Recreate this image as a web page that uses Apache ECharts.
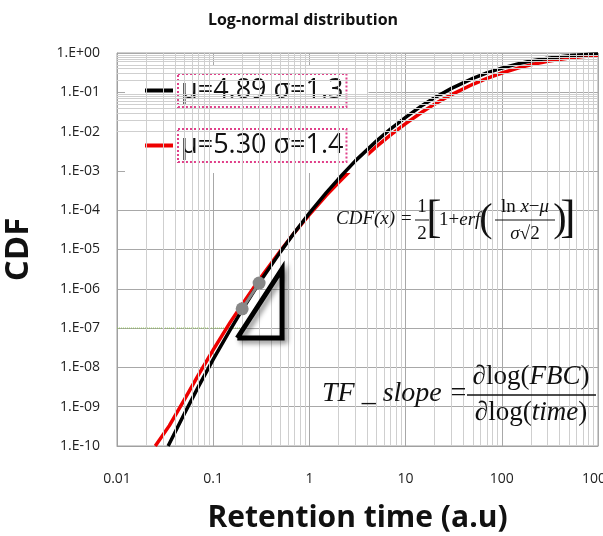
<!DOCTYPE html>
<html>
<head>
<meta charset="utf-8">
<script src="https://cdn.jsdelivr.net/npm/echarts@6/dist/echarts.min.js"></script>
<style>
  html, body { margin: 0; padding: 0; background: #fff; }
  #chart { width: 603px; height: 536px; }
</style>
</head>
<body>
<div id="chart"></div>
<script>
// curve values (log-log)
const seriesNames = ['μ=4.89 σ=1.3', 'μ=5.30 σ=1.4'];
const blackX = [0.034, 0.04, 0.05, 0.07, 0.1, 0.15, 0.2, 0.3, 0.5, 0.7, 1, 1.5, 2, 3, 5, 7, 10, 15, 20, 30, 50, 70, 100, 150, 200, 300, 500, 700, 1000];
const blackCdf = [1e-10, 2.2e-10, 6.5e-10, 3.2e-9, 1.6e-8, 9e-8, 2.9e-7, 1.4e-6, 8.7e-6, 2.7e-5, 8.4e-5, 2.8e-4, 6.2e-4, 1.8e-3, 5.8e-3, 0.0118, 0.023, 0.047, 0.073, 0.126, 0.226, 0.311, 0.413, 0.537, 0.623, 0.734, 0.846, 0.899, 0.94];
const redX = [0.025, 0.035, 0.05, 0.07, 0.1, 0.15, 0.2, 0.3, 0.5, 0.7, 1, 1.5, 2, 3, 5, 7, 10, 15, 20, 30, 50, 70, 100, 150, 200, 300, 500, 700, 1000];
const redCdf = [1e-10, 3.3e-10, 1.5e-9, 6.4e-9, 2.8e-8, 1.4e-7, 4e-7, 1.7e-6, 9.3e-6, 2.7e-5, 7.7e-5, 2.4e-4, 5e-4, 1.35e-3, 4.2e-3, 8.3e-3, 0.016, 0.032, 0.05, 0.0875, 0.16, 0.226, 0.31, 0.418, 0.5, 0.614, 0.74, 0.814, 0.875];

// slope annotation
const dotX = [0.2, 0.3];
const dotY = [3.1e-7, 1.4e-6];
const triX = [0.178, 0.52, 0.52, 0.178];
const triY = [5.6e-8, 5.6e-8, 3.2e-6, 5.6e-8];
const guideX = [0.01, 0.215];
const guideY = [1e-7, 1e-7];

// axis ranges
const xMin = 0.01, xMax = 1000;
const yMin = 1e-10, yMax = 1;
const minorSteps = [2, 3, 4, 5, 6, 7, 8, 9];

const pairs = (xs, ys) => xs.map((x, i) => [x, ys[i]]);

// minor grid lines at 2..9 of each decade
const minorLines = [];
for (let e = -2; e < 3; e++) {
    minorSteps.forEach(k => minorLines.push({ xAxis: k * Math.pow(10, e) }));
}
for (let e = -10; e < 0; e++) {
    minorSteps.forEach(k => minorLines.push({ yAxis: k * Math.pow(10, e) }));
}

function yLabel(v) {
    const e = Math.round(Math.log10(v));
    return '1.E' + (e < 0 ? '-' : '+') + String(Math.abs(e)).padStart(2, '0');
}

const chart = echarts.init(document.getElementById('chart'));
const serif = 'Liberation Serif';

chart.setOption({
    animation: false,
    title: {
        text: 'Log-normal distribution',
        left: 298, top: 7, textAlign: 'center',
        textStyle: { fontFamily: 'Open Sans', fontSize: 16, fontWeight: 'bold', color: '#111' }
    },
    grid: { left: 117, right: 5, top: 53, bottom: 90, show: true, borderColor: '#a0a0a0', borderWidth: 1,
        outerBoundsMode: 'none', containLabel: false },
    legend: {
        data: seriesNames,
        orient: 'vertical',
        left: 125, top: 65,
        padding: [8, 21, 10, 20],
        backgroundColor: '#fff',
        itemWidth: 28, itemHeight: 4,
        itemGap: 20,
        icon: 'rect',
        textStyle: {
            fontFamily: 'Open Sans', fontSize: 27, color: '#111',
            borderColor: '#e0408a', borderWidth: 2, borderType: 'dotted',
            padding: [4, 3, 2, 3]
        }
    },
    xAxis: {
        type: 'log', logBase: 10, min: xMin, max: xMax, interval: 1,
        axisLine: { show: true, onZero: false, lineStyle: { color: '#a0a0a0' } },
        axisTick: { show: false },
        axisLabel: { fontFamily: 'Open Sans', fontSize: 14, color: '#222', margin: 26,
            formatter: v => String(Number(v.toPrecision(3))) },
        splitLine: { show: true, lineStyle: { color: '#a8a8a8', width: 1 } },
        name: 'Retention time (a.u)', nameLocation: 'middle', nameGap: 57,
        nameTextStyle: { fontFamily: 'Open Sans', fontSize: 30, fontWeight: 'bold', color: '#111' }
    },
    yAxis: {
        type: 'log', logBase: 10, min: yMin, max: yMax, interval: 1,
        axisLine: { show: true, lineStyle: { color: '#a0a0a0' } },
        axisTick: { show: false },
        axisLabel: { fontFamily: 'Open Sans', fontSize: 14, color: '#222', margin: 17, formatter: yLabel, interval: 0 },
        splitLine: { show: true, lineStyle: { color: '#a8a8a8', width: 1 } },
        name: 'CDF', nameLocation: 'middle', nameGap: 82, nameRotate: 90,
        nameTextStyle: { fontFamily: 'Open Sans', fontSize: 33, fontWeight: 'bold', color: '#111' }
    },
    series: [
        {
            name: 'grid-minor', type: 'line', data: [], silent: true, z: 1,
            markLine: {
                silent: true, symbol: ['none', 'none'], label: { show: false },
                lineStyle: { color: '#cfcfcf', type: 'solid', width: 1 },
                data: minorLines
            }
        },
        {
            name: 'guide', type: 'line', data: pairs(guideX, guideY), symbol: 'none', z: 2,
            lineStyle: { color: '#8cc152', width: 1, type: 'dotted' }
        },
        {
            name: seriesNames[0], type: 'line', data: pairs(blackX, blackCdf), smooth: false,
            symbol: 'none', z: 4, color: '#000',
            lineStyle: { color: '#000', width: 3.5, join: 'round' }
        },
        {
            name: seriesNames[1], type: 'line', data: pairs(redX, redCdf), smooth: false,
            symbol: 'none', z: 3, color: '#ee0000',
            lineStyle: { color: '#ee0000', width: 3.5, join: 'round' }
        },
        {
            name: 'triangle', type: 'line', data: pairs(triX, triY), symbol: 'none', z: 5,
            lineStyle: { color: '#000', width: 5, join: 'miter',
                shadowColor: 'rgba(0,0,0,0.45)', shadowBlur: 5, shadowOffsetX: 3, shadowOffsetY: 3 }
        },
        {
            name: 'dots', type: 'line', data: pairs(dotX, dotY), symbol: 'circle', symbolSize: 13, z: 6,
            showSymbol: true,
            itemStyle: { color: '#888' },
            lineStyle: { color: '#888', width: 3 }
        }
    ],
    graphic: [
        // CDF(x) formula
        { type: 'text', left: 336, top: 209, z: 10, style: { text: 'CDF(x) =', font: 'italic 19px ' + serif, fill: '#111' } },
        { type: 'text', x: 422, y: 207, z: 10, style: { text: '1', font: '19px ' + serif, fill: '#111', align: 'center', verticalAlign: 'middle' } },
        { type: 'line', z: 10, shape: { x1: 415, y1: 220, x2: 429, y2: 220 }, style: { stroke: '#111', lineWidth: 1 } },
        { type: 'text', x: 422, y: 234, z: 10, style: { text: '2', font: '19px ' + serif, fill: '#111', align: 'center', verticalAlign: 'middle' } },
        { type: 'text', x: 434, y: 220, z: 10, style: { text: '[', font: '46px ' + serif, fill: '#111', align: 'center', verticalAlign: 'middle' } },
        { type: 'text', x: 439, y: 220, z: 10, style: {
            text: '{a|1+}{b|erf}', verticalAlign: 'middle',
            rich: { a: { font: '19px ' + serif, fill: '#111' }, b: { font: 'italic 19px ' + serif, fill: '#111' } } } },
        { type: 'text', x: 486, y: 220, z: 10, style: { text: '(', font: '40px ' + serif, fill: '#111', align: 'center', verticalAlign: 'middle' } },
        { type: 'text', x: 525, y: 207, z: 10, style: {
            text: '{a|ln}{b| x}{a|−}{b|μ}', align: 'center', verticalAlign: 'middle',
            rich: { a: { font: '19px ' + serif, fill: '#111' }, b: { font: 'italic 19px ' + serif, fill: '#111' } } } },
        { type: 'line', z: 10, shape: { x1: 495, y1: 220, x2: 555, y2: 220 }, style: { stroke: '#111', lineWidth: 1 } },
        { type: 'text', x: 525, y: 234, z: 10, style: {
            text: '{b|σ}{a|√2}', align: 'center', verticalAlign: 'middle',
            rich: { a: { font: '19px ' + serif, fill: '#111' }, b: { font: 'italic 19px ' + serif, fill: '#111' } } } },
        { type: 'text', x: 560, y: 220, z: 10, style: { text: ')', font: '40px ' + serif, fill: '#111', align: 'center', verticalAlign: 'middle' } },
        { type: 'text', x: 568, y: 220, z: 10, style: { text: ']', font: '46px ' + serif, fill: '#111', align: 'center', verticalAlign: 'middle' } },
        // TF slope formula
        { type: 'text', x: 322, y: 394, z: 10, style: { text: 'TF _ slope =', font: 'italic 28px ' + serif, fill: '#111', verticalAlign: 'middle' } },
        { type: 'text', x: 531, y: 377, z: 10, style: {
            text: '{a|∂log(}{b|FBC}{a|)}', align: 'center', verticalAlign: 'middle',
            rich: { a: { font: '27px ' + serif, fill: '#111' }, b: { font: 'italic 27px ' + serif, fill: '#111' } } } },
        { type: 'line', z: 10, shape: { x1: 467, y1: 395, x2: 596, y2: 395 }, style: { stroke: '#111', lineWidth: 1.5 } },
        { type: 'text', x: 531, y: 413, z: 10, style: {
            text: '{a|∂log(}{b|time}{a|)}', align: 'center', verticalAlign: 'middle',
            rich: { a: { font: '27px ' + serif, fill: '#111' }, b: { font: 'italic 27px ' + serif, fill: '#111' } } } }
    ]
});

window.addEventListener('resize', () => chart.resize());
</script>
</body>
</html>
